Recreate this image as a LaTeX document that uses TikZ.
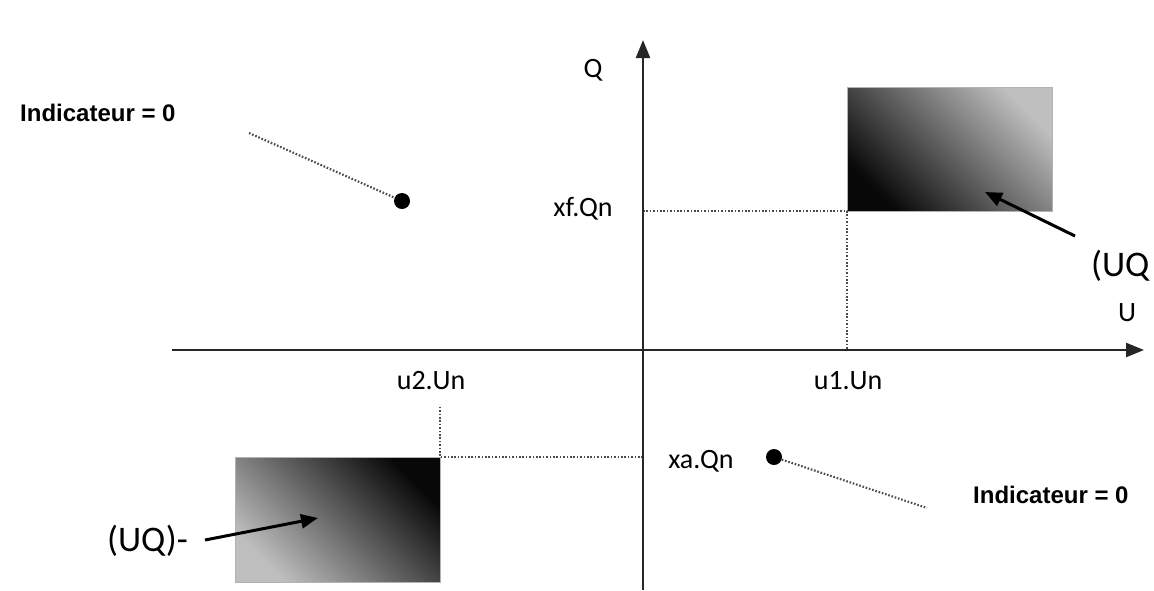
\documentclass[tikz,border=0pt]{standalone}
\usepackage{fontspec}
\setmainfont{Carlito}
\newfontfamily\arialfont{Liberation Sans}
\usetikzlibrary{arrows.meta}
\begin{document}
\begin{tikzpicture}[x=1pt,y=-1pt,
  axisline/.style={line width=2.4pt,draw=black!85,-{Triangle[length=18pt,width=14pt]}},
  guide/.style={draw=black!70,line width=2.2pt,dash pattern=on 1.6pt off 1.8pt},
  pointer/.style={line width=3pt,draw=black,-{Triangle[length=17pt,width=14pt]}},
  lab/.style={font=\fontsize{28}{31}\selectfont,inner sep=0pt},
  big/.style={font=\fontsize{36}{40}\selectfont,inner sep=0pt},
  indic/.style={font=\arialfont\bfseries\fontsize{24}{28}\selectfont,inner sep=0pt},
  blob/.style={circle,fill=black,minimum size=16pt,inner sep=0pt}]
\useasboundingbox (0,0) rectangle (1154,590);
% zones
\path[draw=black!30,line width=0.8pt,top color=black!25,bottom color=black!97,shading angle=-45] (847,87) rectangle (1052,211);
\path[draw=black!30,line width=0.8pt,top color=black!97,bottom color=black!25,shading angle=-45] (235,457) rectangle (440,582);
\coordinate (tr) at (847,211);
\coordinate (bl) at (440,457);
% guide lines
\coordinate (qf) at (643,211);
\coordinate (uf) at (847,350);
\coordinate (qa) at (643,457);
\coordinate (ua) at (440,405);
\draw[guide] (qf) -- (tr) -- (uf);
\draw[guide] (qa) -- (bl) -- (ua);
% axes
\coordinate (xs) at (172,350);
\coordinate (xe) at (1144,350);
\coordinate (ys) at (643,590);
\coordinate (ye) at (643,40);
\draw[axisline] (xs) -- (xe);
\draw[axisline] (ys) -- (ye);
% axis labels
\node[lab] (Q) at (593,70) {Q};
\node[lab] (U) at (1127,313) {U};
\node[lab] (xf) at (583,209) {xf.Qn};
\node[lab] (u1) at (848,381) {u1.Un};
\node[lab] (u2) at (431,381) {u2.Un};
\node[lab] (xa) at (701,461) {xa.Qn};
% points
\node[blob] (p1) at (402,201) {};
\node[blob] (p2) at (774,457) {};
\coordinate (d1) at (249,133);
\coordinate (d2) at (927,508);
\draw[guide] (d1) -- (p1);
\draw[guide] (p2) -- (d2);
\node[indic,anchor=west] (i1) at (20,113) {Indicateur = 0};
\node[indic,anchor=west] (i2) at (973,495) {Indicateur = 0};
% pointers
\node[big,anchor=west] (uqp) at (1091,266) {(UQ};
\node[big,anchor=west] (uqm) at (107,541) {(UQ)-};
\coordinate (a1s) at (1075,236);
\coordinate (a1e) at (985,192);
\coordinate (a2s) at (205,540);
\coordinate (a2e) at (318,518);
\draw[pointer] (a1s) -- (a1e);
\draw[pointer] (a2s) -- (a2e);
\end{tikzpicture}
\end{document}
